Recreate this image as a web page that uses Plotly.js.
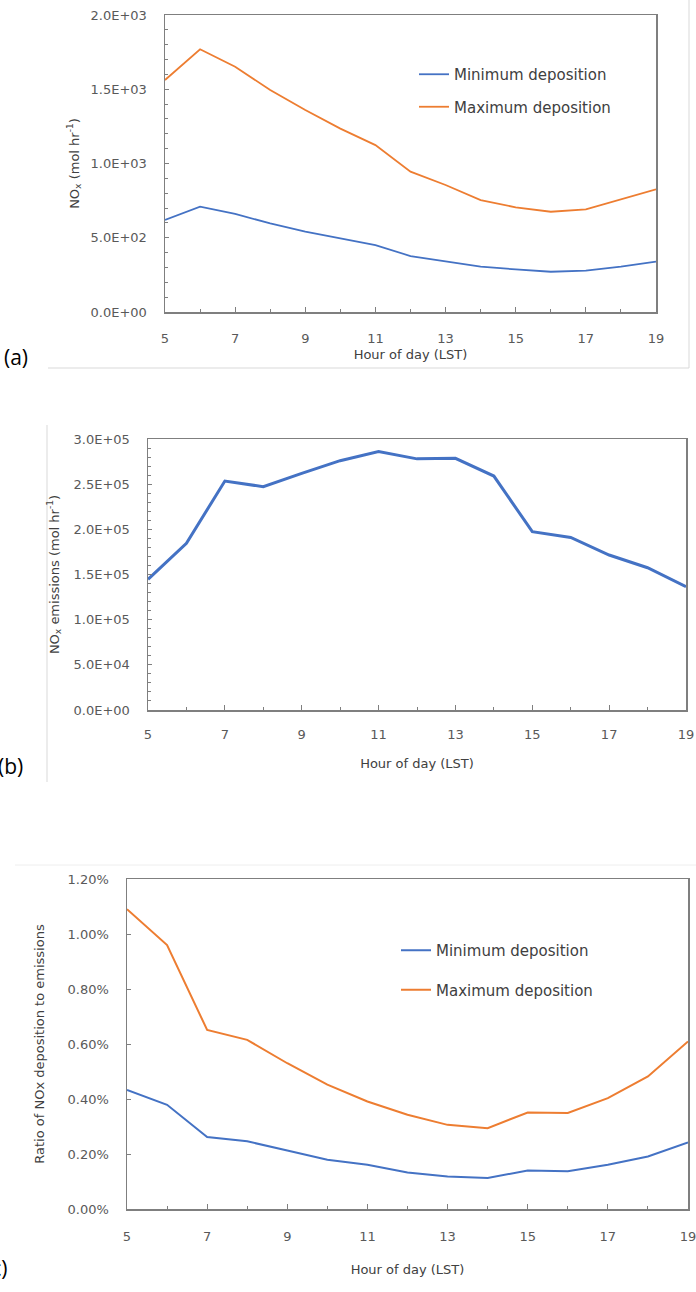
<!DOCTYPE html>
<html>
<head>
<meta charset="utf-8">
<script src="https://cdn.plot.ly/plotly-3.0.1.min.js"></script>
<style>
  html, body { margin: 0; padding: 0; background: #fff; }
  #myDiv { width: 696px; height: 1292px; }
</style>
</head>
<body>
<div id="myDiv"></div>
<script>
// hours of the day (LST)
var hours = [5, 6, 7, 8, 9, 10, 11, 12, 13, 14, 15, 16, 17, 18, 19];

// (a) NOx deposition, mol/hr
var minDep = [620, 709, 660, 597, 541, 495, 451, 377, 339, 305, 287, 271, 278, 305, 339];
var maxDep = [1562, 1769, 1652, 1495, 1360, 1235, 1124, 945, 855, 754, 705, 675, 691, 759, 826];

// (b) NOx emissions, mol/hr
var emissions = [144700, 184500, 253500, 247200, 262000, 276000, 286000, 278000,
                 278600, 259000, 197400, 191000, 171600, 157500, 136500];

// (c) ratio of deposition to emissions, in percent
var ratioMin = [0.433, 0.379, 0.262, 0.246, 0.213, 0.179, 0.161, 0.133, 0.118, 0.113, 0.140, 0.137, 0.161, 0.191, 0.242];
var ratioMax = [1.090, 0.960, 0.651, 0.615, 0.530, 0.452, 0.391, 0.343, 0.306, 0.294, 0.351, 0.349, 0.403, 0.482, 0.609];

var ticksA = [0, 500, 1000, 1500, 2000];
var ticksB = [0, 50000, 100000, 150000, 200000, 250000, 300000];
var ticksC = [0, 0.2, 0.4, 0.6, 0.8, 1.0, 1.2];

var BLUE = '#4472C4', ORANGE = '#ED7D31';
var W = 696, H = 1292;
var FONT = 'DejaVu Sans, sans-serif';

// Excel style scientific label: 2.0E+03
function sci(v) {
  var s = v.toExponential(1).toUpperCase();
  var parts = s.split('E');
  var sign = parts[1].charAt(0);
  var exp = parts[1].slice(1);
  if (exp.length < 2) exp = '0' + exp;
  return parts[0] + 'E' + sign + exp;
}

function px(x) { return x / W; }
function py(y) { return 1 - y / H; }

var data = [
  {x: hours, y: minDep, type: 'scatter', mode: 'lines', name: 'Minimum deposition',
   line: {color: BLUE, width: 1.8}, xaxis: 'x', yaxis: 'y', legend: 'legend', legendgroup: 'a1'},
  {x: hours, y: maxDep, type: 'scatter', mode: 'lines', name: 'Maximum deposition',
   line: {color: ORANGE, width: 1.8}, xaxis: 'x', yaxis: 'y', legend: 'legend', legendgroup: 'a2'},
  {x: hours, y: emissions, type: 'scatter', mode: 'lines', name: 'Emissions', showlegend: false,
   line: {color: BLUE, width: 3}, xaxis: 'x2', yaxis: 'y2'},
  {x: hours, y: ratioMin, type: 'scatter', mode: 'lines', name: 'Minimum deposition',
   line: {color: BLUE, width: 2}, xaxis: 'x3', yaxis: 'y3', legend: 'legend2', legendgroup: 'c1'},
  {x: hours, y: ratioMax, type: 'scatter', mode: 'lines', name: 'Maximum deposition',
   line: {color: ORANGE, width: 2}, xaxis: 'x3', yaxis: 'y3', legend: 'legend2', legendgroup: 'c2'}
];

function xAxis(dom, anchor, labelGap, standoff) {
  return {
    domain: dom, anchor: anchor, range: [5, 19],
    tick0: 5, dtick: 2, ticks: 'inside', ticklen: 5, tickcolor: '#7f7f7f',
    minor: {tick0: 5, dtick: 1, ticks: 'inside', ticklen: 3, tickcolor: '#7f7f7f'},
    showline: true, mirror: true, linecolor: '#7f7f7f', linewidth: 1.5,
    showgrid: false, zeroline: false,
    tickfont: {family: FONT, size: 13, color: '#595959'},
    ticklabelstandoff: labelGap, ticklabeloverflow: 'allow',
    title: {text: 'Hour of day (LST)', standoff: standoff,
            font: {family: FONT, size: 13, color: '#404040'}}
  };
}

function yAxis(dom, anchor, range, vals, texts, minorDtick, title, standoff) {
  var ax = {
    domain: dom, anchor: anchor, range: range,
    tickvals: vals, ticktext: texts,
    ticks: 'inside', ticklen: 4, tickcolor: '#7f7f7f',
    showline: true, mirror: true, linecolor: '#7f7f7f', linewidth: 1.5,
    showgrid: false, zeroline: false,
    tickfont: {family: FONT, size: 13, color: '#595959'},
    ticklabelstandoff: 14,
    title: {text: title, standoff: standoff,
            font: {family: FONT, size: 13, color: '#404040'}}
  };
  if (minorDtick) ax.minor = {dtick: minorDtick, ticks: 'inside', ticklen: 3, tickcolor: '#7f7f7f'};
  return ax;
}

var legendFont = {family: FONT, size: 15, color: '#404040'};
var frame = '#d9d9d9';

var layout = {
  width: W, height: H,
  margin: {l: 0, r: 0, t: 0, b: 0},
  paper_bgcolor: '#fff', plot_bgcolor: '#fff',
  xaxis: xAxis([px(165), px(656)], 'y', 14, 5),
  yaxis: yAxis([py(312), py(15)], 'x', [0, 2000], ticksA, ticksA.map(sci), 100,
               'NO<sub>x</sub> (mol hr<sup>-1</sup>)', 8),
  xaxis2: xAxis([px(148), px(686)], 'y2', 12, 18),
  yaxis2: yAxis([py(710), py(439)], 'x2', [0, 300000], ticksB, ticksB.map(sci), 10000,
               'NO<sub>x</sub> emissions (mol hr<sup>-1</sup>)', 11),
  xaxis3: xAxis([px(127), px(688)], 'y3', 15, 22),
  yaxis3: yAxis([py(1209), py(879)], 'x3', [0, 1.2], ticksC,
                ticksC.map(function (v) { return v.toFixed(2) + '%'; }), null,
                'Ratio of NOx deposition to emissions', 20),
  legend: {x: px(414), xanchor: 'left', y: py(58), yanchor: 'top',
           bgcolor: 'rgba(0,0,0,0)', font: legendFont, itemwidth: 30,
           traceorder: 'grouped', tracegroupgap: 10},
  legend2: {x: px(396), xanchor: 'left', y: py(934), yanchor: 'top',
            bgcolor: 'rgba(0,0,0,0)', font: legendFont, itemwidth: 30,
            traceorder: 'grouped', tracegroupgap: 17},
  shapes: [
    {type: 'line', xref: 'paper', yref: 'paper', x0: px(689), x1: px(689), y0: py(0), y1: py(368),
     line: {color: frame, width: 1}},
    {type: 'line', xref: 'paper', yref: 'paper', x0: px(48), x1: px(689), y0: py(368), y1: py(368),
     line: {color: frame, width: 1}},
    {type: 'line', xref: 'paper', yref: 'paper', x0: px(47), x1: px(47), y0: py(425), y1: py(782),
     line: {color: frame, width: 1}},
    {type: 'line', xref: 'paper', yref: 'paper', x0: px(15), x1: px(696), y0: py(865), y1: py(865),
     line: {color: '#eeeeee', width: 1}}
  ],
  annotations: [
    {text: '(a)', xref: 'paper', yref: 'paper', x: px(2), y: py(357), xanchor: 'left', yanchor: 'middle',
     showarrow: false, font: {family: 'Open Sans, sans-serif', size: 21, color: '#000'}},
    {text: '(b)', xref: 'paper', yref: 'paper', x: px(25), y: py(766), xanchor: 'right', yanchor: 'middle',
     showarrow: false, font: {family: 'Open Sans, sans-serif', size: 21, color: '#000'}},
    {text: '(c)', xref: 'paper', yref: 'paper', x: px(9), y: py(1268), xanchor: 'right', yanchor: 'middle',
     showarrow: false, font: {family: 'Open Sans, sans-serif', size: 21, color: '#000'}}
  ]
};

Plotly.newPlot('myDiv', data, layout, {staticPlot: true});
</script>
</body>
</html>
